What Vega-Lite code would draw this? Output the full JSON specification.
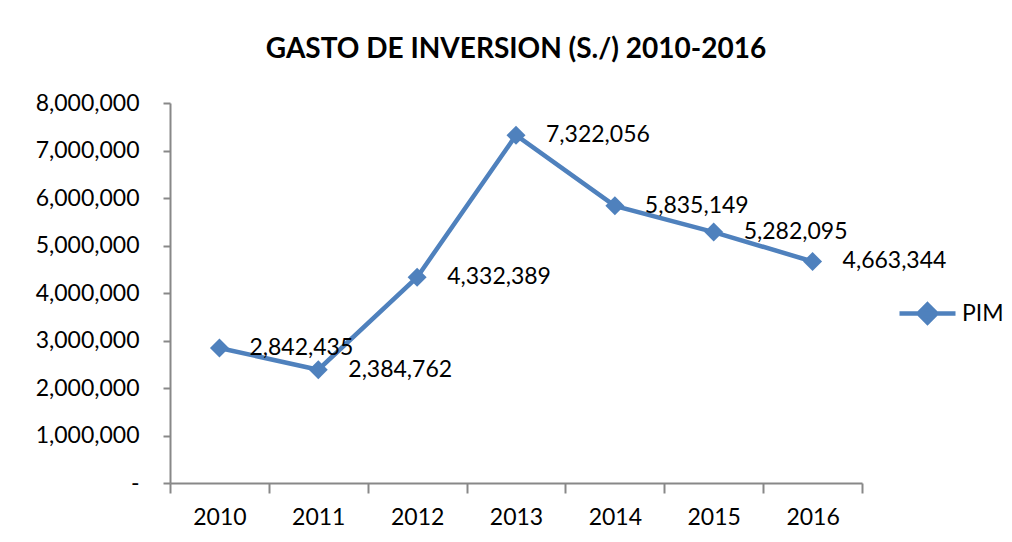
{
  "$schema": "https://vega.github.io/schema/vega-lite/v6.json",
  "width": 692,
  "height": 380,
  "autosize": {"type": "none"},
  "padding": {"left": 170, "top": 103, "right": 150, "bottom": 59},
  "background": "white",
  "title": {
    "text": "GASTO DE INVERSION (S./) 2010-2016",
    "font": "Lato",
    "fontSize": 28,
    "fontWeight": "bold",
    "color": "black",
    "anchor": "middle",
    "offset": 28
  },
  "config": {
    "view": {"stroke": null},
    "font": "Lato"
  },
  "data": {
    "values": [
      {"year": "2010", "value": 2842435, "serie": "PIM"},
      {"year": "2011", "value": 2384762, "serie": "PIM"},
      {"year": "2012", "value": 4332389, "serie": "PIM"},
      {"year": "2013", "value": 7322056, "serie": "PIM"},
      {"year": "2014", "value": 5835149, "serie": "PIM"},
      {"year": "2015", "value": 5282095, "serie": "PIM"},
      {"year": "2016", "value": 4663344, "serie": "PIM"}
    ]
  },
  "encoding": {
    "x": {
      "field": "year",
      "type": "nominal",
      "bandPosition": 0.5,
      "scale": {"type": "band", "paddingInner": 0, "paddingOuter": 0},
      "axis": {
        "title": null,
        "labelAngle": 0,
        "tickBand": "extent",
        "domainColor": "#888888",
        "domainWidth": 2,
        "tickColor": "#888888",
        "tickWidth": 2,
        "tickSize": 10,
        "labelPadding": 13,
        "labelFont": "Lato",
        "labelFontSize": 23,
        "labelColor": "black"
      }
    },
    "y": {
      "field": "value",
      "type": "quantitative",
      "scale": {"domain": [0, 8000000], "nice": false},
      "axis": {
        "title": null,
        "grid": false,
        "values": [0, 1000000, 2000000, 3000000, 4000000, 5000000, 6000000, 7000000, 8000000],
        "labelExpr": "datum.value == 0 ? '-\u00a0\u00a0' : format(datum.value, ',')",
        "domainColor": "#888888",
        "domainWidth": 2,
        "tickColor": "#888888",
        "tickWidth": 2,
        "tickSize": 7,
        "labelPadding": 24,
        "labelFont": "Lato",
        "labelFontSize": 23,
        "labelColor": "black"
      }
    }
  },
  "layer": [
    {
      "mark": {"type": "line", "color": "#4F81BD", "strokeWidth": 4.5},
      "encoding": {
        "color": {
          "field": "serie",
          "type": "nominal",
          "scale": {"range": ["#4F81BD"]},
          "legend": {
            "title": null,
            "orient": "none",
            "legendX": 727,
            "legendY": 180,
            "symbolType": "M-1,0H1M0,-0.32L0.32,0L0,0.32L-0.32,0Z",
            "symbolSize": 3136,
            "symbolStrokeWidth": 4.5,
            "symbolFillColor": "#4F81BD",
            "symbolStrokeColor": "#4F81BD",
            "labelFont": "Lato",
            "labelFontSize": 23,
            "labelColor": "black",
            "labelOffset": 4
          }
        }
      }
    },
    {
      "mark": {"type": "point", "shape": "diamond", "filled": true, "size": 360, "color": "#4F81BD", "opacity": 1}
    },
    {
      "mark": {"type": "text", "align": "left", "baseline": "middle", "dx": 30, "font": "Lato", "fontSize": 23, "color": "black"},
      "encoding": {
        "text": {"field": "value", "type": "quantitative", "format": ","}
      }
    }
  ]
}
